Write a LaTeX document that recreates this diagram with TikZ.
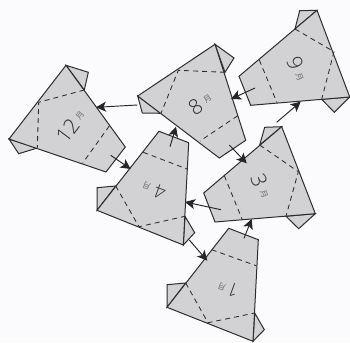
\documentclass[tikz,border=0pt]{standalone}
\usepackage{fontspec}
\setmainfont{Open Sans Light}
\newfontfamily\cjk{Noto Sans CJK SC}
\usetikzlibrary{arrows.meta}
\definecolor{bgc}{RGB}{251,251,253}
\definecolor{sheet}{RGB}{210,210,212}
\definecolor{ink}{RGB}{45,45,48}
\definecolor{txt}{RGB}{45,45,48}
\tikzset{
  x=1pt,y=-1pt,
  sheetfill/.style={fill=sheet,draw=ink,line width=1pt,line join=miter},
  fold/.style={draw=ink,line width=0.85pt,dash pattern=on 5pt off 4pt},
  conn/.style={draw=black!85,line width=0.95pt,-{Stealth[length=10pt,width=10pt,inset=2.5pt]},shorten >=0pt},
  num/.style={inner sep=0pt,text=txt,font=\fontsize{21}{21}\selectfont},
  numsmall/.style={num,font=\fontsize{19}{19}\selectfont},
  mon/.style={inner sep=0pt,text=txt!70,font=\cjk\fontsize{8}{8}\selectfont}
}
\begin{document}
\begin{tikzpicture}
\useasboundingbox[fill=bgc] (0,0) rectangle (350,342);
% 12
\filldraw[sheetfill] (66,65.3)--(88.3,72.3)--(84.3,90)--cycle;
\filldraw[sheetfill] (9,139)--(18.7,153.7)--(37.3,148)--cycle;
\filldraw[sheetfill] (66,65.3)--(125.3,147)--(106,172)--(9,139)--cycle;
\draw[fold] (84.3,90)--(38.7,102.3)--(37.3,148);
\draw[fold] (109.3,126)--(82.7,163);
\node[num,rotate=53] (n12) at (67.5,130.5) {12};
\node[mon,rotate=53] (m12) at (80,115.5) {月};
% 8
\filldraw[sheetfill] (215,44.3)--(234,58)--(225,72.3)--cycle;
\filldraw[sheetfill] (137.7,96)--(142.3,113)--(161,113.3)--cycle;
\filldraw[sheetfill] (215,44.3)--(245.7,140.3)--(219.3,158)--(137.7,96)--cycle;
\draw[fold] (225,72.3)--(178.3,70.3)--(161,113.3);
\draw[fold] (237.7,115.7)--(200,141);
\node[num,rotate=35] (n8) at (195.5,106.7) {8};
\node[mon,rotate=35] (m8) at (207.5,98.5) {月};
% 9
\filldraw[sheetfill] (317,10.3)--(299.7,10.7)--(295,29)--cycle;
\filldraw[sheetfill] (349.7,97)--(334.3,112.3)--(321.7,99.3)--cycle;
\filldraw[sheetfill] (317,10.3)--(349.7,97)--(250.7,105.3)--(239,76.3)--cycle;
\draw[fold] (295,29)--(334,51.7)--(321.7,99.3);
\draw[fold] (259.3,60)--(277,102.7);
\node[num,rotate=-68] (n9) at (295,63.5) {9};
\node[mon,rotate=-68] (m9) at (299.5,77.5) {月};
% 3
\filldraw[sheetfill] (281.7,126.7)--(264.7,127.3)--(259.7,145)--cycle;
\filldraw[sheetfill] (315.3,213.7)--(298.7,228.7)--(286,216.3)--cycle;
\filldraw[sheetfill] (281.7,126.7)--(315.3,213.7)--(215,222)--(203.7,193)--cycle;
\draw[fold] (259.7,145)--(298.3,171.7)--(286,216.3);
\draw[fold] (224.3,175.7)--(242.3,219.7);
\node[num,rotate=-69] (n3) at (259,180) {3};
\node[mon,rotate=-69] (m3) at (264,194.5) {月};
% 4
\filldraw[sheetfill] (97,210.3)--(97,187.7)--(115.7,186)--cycle;
\filldraw[sheetfill] (183.3,245)--(194.7,232.7)--(185,216.3)--cycle;
\filldraw[sheetfill] (159,131.3)--(188.7,142.7)--(183.3,245)--(97,210.3)--cycle;
\draw[fold] (115.7,186)--(139,226.7)--(185,216.3);
\draw[fold] (143.3,152.3)--(187,169);
\node[numsmall,rotate=160] (n4) at (160,191.7) {4};
\node[mon,rotate=160] (m4) at (146.7,186) {月};
% 1
\filldraw[sheetfill] (167,307.3)--(167,284.7)--(185.7,283)--cycle;
\filldraw[sheetfill] (253,341.3)--(264.3,329.7)--(254.7,313)--cycle;
\filldraw[sheetfill] (228.7,228.3)--(258.3,239.7)--(253,341.3)--(167,307.3)--cycle;
\draw[fold] (185.7,283)--(208,322.7)--(254.7,313);
\draw[fold] (211.7,249.7)--(256.3,265.7);
\node[numsmall,rotate=160] (n1) at (233,290.5) {1};
\node[mon,rotate=160] (m1) at (222,286.5) {月};
% connector ends
\coordinate (a8s) at (137.3,105); \coordinate (a12e) at (96,107.3);
\coordinate (a12s) at (110.7,155.3); \coordinate (a4w) at (130.7,169);
\coordinate (a4n) at (170,146.7); \coordinate (a8w) at (176,126.7);
\coordinate (a9s) at (255,88); \coordinate (a8e) at (231,99);
\coordinate (a8b) at (229.3,145); \coordinate (a3w) at (246.7,163.3);
\coordinate (a3n) at (276.7,122.3); \coordinate (a9b) at (300.7,101.7);
\coordinate (a3s) at (221,209.7); \coordinate (a4e) at (185,202);
\coordinate (a4b) at (189.3,240); \coordinate (a1w) at (207.3,260.7);
\coordinate (a1n) at (244,238.3); \coordinate (a3b) at (251.7,219);
\draw[conn] (a8s)--(a12e);
\draw[conn] (a12s)--(a4w);
\draw[conn] (a4n)--(a8w);
\draw[conn] (a9s)--(a8e);
\draw[conn] (a8b)--(a3w);
\draw[conn] (a3n)--(a9b);
\draw[conn] (a3s)--(a4e);
\draw[conn] (a4b)--(a1w);
\draw[conn] (a1n)--(a3b);
\end{tikzpicture}
\end{document}
